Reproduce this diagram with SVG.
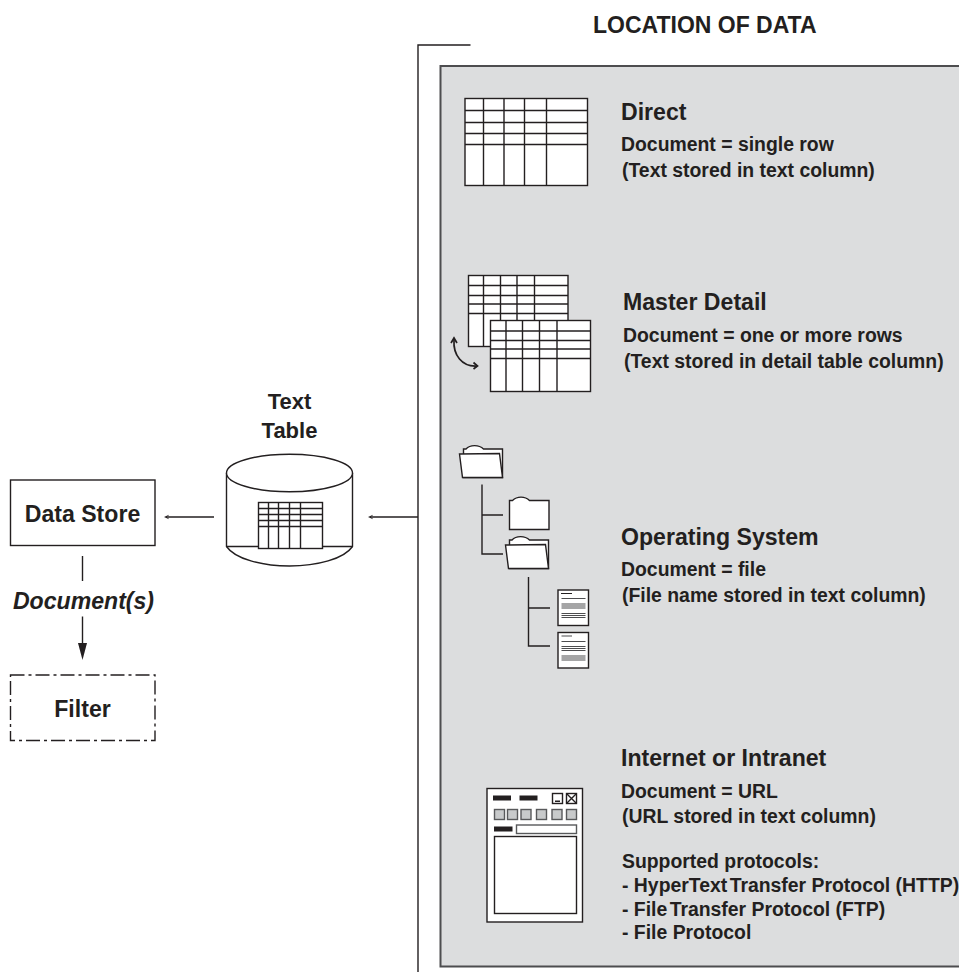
<svg xmlns="http://www.w3.org/2000/svg" width="959" height="976" viewBox="0 0 959 976">
<style>
text{font-family:"Liberation Sans",Arial,sans-serif;font-weight:bold;fill:#231f20}
.h{font-size:23.100px}.b{font-size:19.400px}.n{font-size:23.100px}
.l{fill:none;stroke:#231f20;stroke-width:1.400}
.t{fill:#fff;stroke:#231f20;stroke-width:1.400}
.g{fill:#c8cacb;stroke:#58595b;stroke-width:1.400}
.s{fill:none;stroke:#4d4d4f;stroke-width:1.200}
.k{fill:#231f20}
</style>
<rect width="959" height="976" fill="#fff"/>
<g id="panel">
<path d="M959 66H440.500V966.500H959" fill="#dcddde" stroke="#4d4d4f" stroke-width="2"/>
</g>
<g id="connectors">
<path class="l" d="M470.500 45H418V972"/>
<path class="l" d="M418 517H372"/>
<path class="k" d="M368 517L373 514.800 371.500 517 373 519.200Z"/>
<path class="l" d="M214 517H168"/>
<path class="k" d="M164 517L169 514.800 167.500 517 169 519.200Z"/>
<path class="l" d="M82.500 556V581"/>
<path class="l" d="M82.500 616.500V645"/>
<path class="k" d="M82.500 660L78 643H87Z"/>
</g>
<g id="title"><text x="593" y="32.500" style="font-size:23px">LOCATION OF DATA</text></g>
<g id="direct">
<rect class="t" x="465" y="98.500" width="122.500" height="87"/>
<path class="l" d="M483.500 98.500V185.500M504 98.500V185.500M524.500 98.500V185.500M546.500 98.500V185.500M465 110.500H587.500M465 122.500H587.500M465 133.500H587.500M465 144.500H587.500"/>
<text class="h" x="621" y="119.500">Direct</text>
<text class="b" x="621" y="151">Document = single row</text>
<text class="b" x="622" y="177">(Text stored in text column)</text>
</g>
<g id="master-detail">
<rect class="t" x="468.500" y="275.500" width="99.500" height="71"/>
<path class="l" d="M483.500 275.500V346.500M500.500 275.500V346.500M517 275.500V346.500M534.500 275.500V346.500M468.500 285.500H568M468.500 295.500H568M468.500 304H568M468.500 313.500H568"/>
<rect class="t" x="490.500" y="320.500" width="100" height="71"/>
<path class="l" d="M506 320.500V391.500M522.500 320.500V391.500M539.500 320.500V391.500M557 320.500V391.500M490.500 331H590.500M490.500 340.500H590.500M490.500 349H590.500M490.500 358.500H590.500"/>
<path d="M454 340C453 355 462 367 477 366" fill="none" stroke="#231f20" stroke-width="1.700"/>
<path d="M451 343L454 338 457 343M473.500 362.500L477.500 366 473.500 369" fill="none" stroke="#231f20" stroke-width="1.700"/>
<text class="h" x="623" y="310">Master Detail</text>
<text class="b" x="623" y="342">Document = one or more rows</text>
<text class="b" x="624" y="368">(Text stored in detail table column)</text>
</g>
<g id="operating-system">
<path class="t" d="M463.500 477.500V449H466C470 444.500 479 444.500 483.500 449H502.500V477.500Z"/>
<path class="t" d="M459.500 454L499.500 453.500 502.500 477.500H462.500Z"/>
<path class="l" d="M482 484.500V554H503M482 515H503"/>
<path class="t" d="M509.500 529.500V500.500H512.500C517 496 525 496 529.500 500.500H549V529.500Z"/>
<path class="t" d="M509.500 568.500V540H512C516 535.500 525 535.500 529.500 540H548.500V568.500Z"/>
<path class="t" d="M505.500 545L545.500 544.500 548.500 568.500H508.500Z"/>
<path class="l" d="M528.500 577V646H550M528.500 608H550"/>
<rect class="t" x="558" y="590" width="30.500" height="35.500"/>
<path class="k" d="M561 593h11v1h-11z"/>
<path class="s" d="M561.500 598.500H585.500M561.500 604H585.500M561.500 606H585.500M561.500 608H585.500M561.500 613.500H585.500M561.500 615.500H585.500M561.500 617.500H585.500"/>
<rect class="t" x="558" y="632.500" width="30.500" height="35.500"/>
<path class="s" d="M561.500 636H572M561.500 641.500H585.500M561.500 646.500H585.500M561.500 648.500H585.500M561.500 650.500H585.500M561.500 656H585.500M561.500 658H585.500M561.500 660H585.500"/>
<text class="h" x="621" y="544.500">Operating System</text>
<text class="b" x="621" y="575.500">Document = file</text>
<text class="b" x="622" y="602">(File name stored in text column)</text>
</g>
<g id="internet">
<rect class="t" x="487" y="788.500" width="95.500" height="133.500"/>
<rect class="k" x="493" y="795.500" width="18" height="5"/>
<rect class="k" x="519.500" y="795.500" width="18" height="5"/>
<rect class="t" x="552.500" y="793.500" width="10" height="10"/>
<rect class="k" x="555" y="800.500" width="5" height="1.500"/>
<rect class="t" x="566.500" y="793.500" width="10" height="10"/>
<path class="l" d="M566.500 793.500L576.500 803.500M576.500 793.500L566.500 803.500"/>
<rect class="g" x="494.500" y="809.500" width="10" height="10"/>
<rect class="g" x="507.500" y="809.500" width="10" height="10"/>
<rect class="g" x="521" y="809.500" width="10" height="10"/>
<rect class="g" x="536.500" y="809.500" width="10" height="10"/>
<rect class="g" x="552" y="809.500" width="10" height="10"/>
<rect class="g" x="566.500" y="809.500" width="10" height="10"/>
<rect class="k" x="494" y="826.500" width="18.500" height="5"/>
<rect class="t" x="516.500" y="825" width="60" height="8.500" style="stroke:#58595b"/>
<rect class="t" x="494.500" y="836.500" width="82" height="77"/>
<text class="h" x="621" y="766">Internet or Intranet</text>
<text class="b" x="621" y="798">Document = URL</text>
<text class="b" x="622" y="823">(URL stored in text column)</text>
<text class="b" x="622" y="868">Supported protocols:</text>
<text class="b" x="622" y="892">- HyperText<tspan dx="-3"> Transfer Protocol (HTTP)</tspan></text>
<text class="b" x="622" y="916">- File<tspan dx="-3"> Transfer Protocol (FTP)</tspan></text>
<text class="b" x="622" y="939">- File Protocol</text>
</g>
<g id="text-table">
<text x="289.500" y="408.500" text-anchor="middle" style="font-size:22px">Text</text>
<text x="289.500" y="437.500" text-anchor="middle" style="font-size:22px">Table</text>
<path class="t" d="M226.500 473V546.500C235 559 262 566 289.500 566S344 559 352.500 546.500V473"/>
<ellipse class="t" cx="289.500" cy="473" rx="63" ry="18.800"/>
<path class="l" d="M226.500 546.500H352.500"/>
<rect class="t" x="258.500" y="502.500" width="64" height="46"/>
<path class="l" d="M268.500 502.500V548.500M278.500 502.500V548.500M289.500 502.500V548.500M300.500 502.500V548.500M258.500 508.500H322.500M258.500 514.500H322.500M258.500 520.500H322.500M258.500 526.500H322.500"/>
</g>
<g id="data-store">
<rect class="t" x="10.500" y="480" width="144.500" height="65.500"/>
<text class="n" x="82.500" y="521.500" text-anchor="middle">Data Store</text>
</g>
<g id="documents-label"><text class="n" x="83.500" y="609" text-anchor="middle" font-style="italic">Document(s)</text></g>
<g id="filter">
<rect class="l" x="10.500" y="675" width="144.500" height="65.500" stroke-dasharray="14 4 3 4"/>
<text class="n" x="82.500" y="716.500" text-anchor="middle">Filter</text>
</g>
</svg>
